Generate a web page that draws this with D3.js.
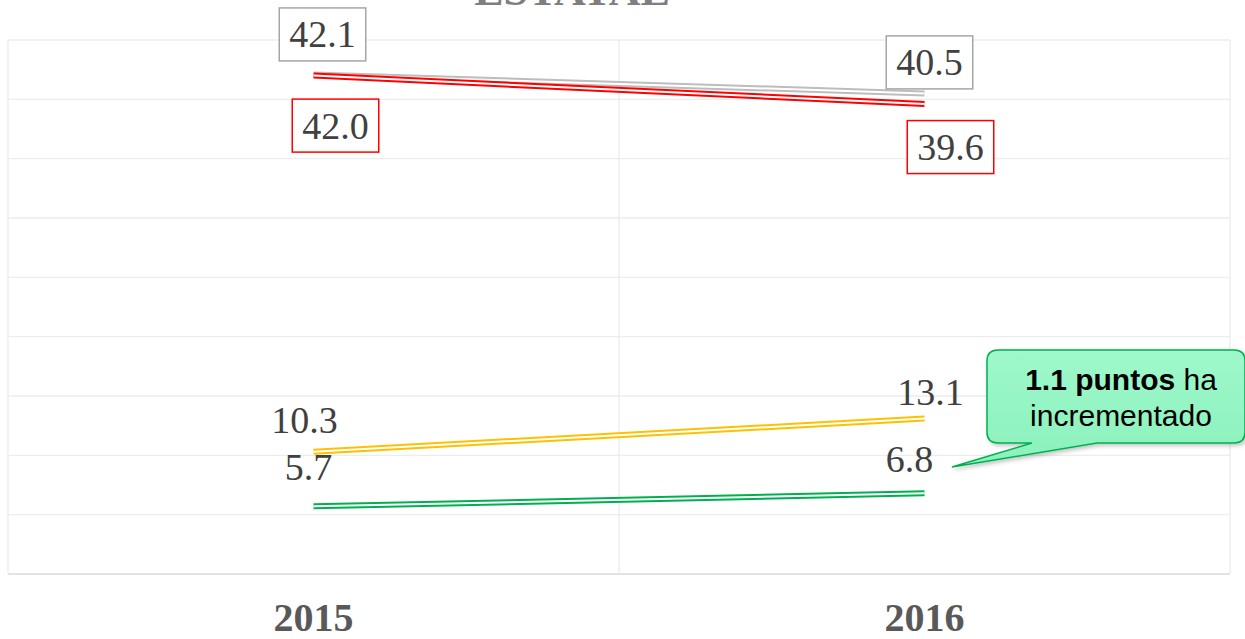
<!DOCTYPE html>
<html>
<head>
<meta charset="utf-8">
<script src="https://cdn.jsdelivr.net/npm/d3@7"></script>
<style>
  body { margin: 0; background: #fff; }
  svg { display: block; }
  .value { font-family: "Liberation Serif", serif; font-size: 38px; fill: #404040; }
  .year { font-family: "Liberation Serif", serif; font-size: 40px; font-weight: bold; fill: #595959; }
  .title { font-family: "Liberation Serif", serif; font-size: 44px; font-weight: bold; fill: #7f7f7f; }
  .note { font-family: "Liberation Sans", sans-serif; font-size: 30px; fill: #000; }
</style>
</head>
<body>
<svg id="chart" width="1245" height="639"></svg>
<script>
const years = ['2015', '2016'];
const grayValues = [42.1, 40.5];
const redValues = [42.0, 39.6];
const yellowValues = [10.3, 13.1];
const greenValues = [5.7, 6.8];
const yTicks = [0, 5, 10, 15, 20, 25, 30, 35, 40, 45];
const noteBold = '1.1 puntos';
const noteRest = ' ha';
const noteLine2 = 'incrementado';
const titleText = 'ESTATAL';

const plot = { left: 8, right: 1230, top: 40, bottom: 574 };

// label placement (offset from point), kept apart from the values
const series = [
  { values: grayValues, color: '#bdbdbd', box: '#a6a6a6', offsets: [[9, -27], [5, -18]] },
  { values: redValues, color: '#ff0000', box: '#ff0000', offsets: [[22, 63], [26, 56]] },
  { values: yellowValues, color: '#ffc000', box: null, offsets: [[-9, -19], [6, -14]] },
  { values: greenValues, color: '#00b050', box: null, offsets: [[-5, -26], [-15, -21]] },
];

const svg = d3.select('#chart');

const x = d3.scaleBand()
  .domain(years)
  .range([plot.left, plot.right]);

const y = d3.scaleLinear()
  .domain([0, 45])
  .range([plot.bottom, plot.top]);

const cx = d => x(d) + x.bandwidth() / 2;

// title (cut at the top)
svg.append('text')
  .attr('class', 'title')
  .attr('x', 572)
  .attr('y', 5)
  .attr('text-anchor', 'middle')
  .text(titleText);

// grid
const grid = svg.append('g');
grid.selectAll('.h')
  .data(yTicks)
  .enter().append('line')
  .attr('x1', plot.left).attr('x2', plot.right)
  .attr('y1', d => y(d)).attr('y2', d => y(d))
  .attr('stroke', d => d === 0 ? '#d9d9d9' : '#ededed')
  .attr('stroke-width', 1.4);

grid.selectAll('.v')
  .data([...years.map(d => x(d)), plot.right])
  .enter().append('line')
  .attr('x1', d => d).attr('x2', d => d)
  .attr('y1', plot.top).attr('y2', plot.bottom)
  .attr('stroke', '#ededed')
  .attr('stroke-width', 1.4);

// double lines
const line = d3.line()
  .x((v, i) => cx(years[i]))
  .y(v => y(v));

series.forEach(s => {
  svg.append('path')
    .attr('d', line(s.values))
    .attr('fill', 'none')
    .attr('stroke', s.color)
    .attr('stroke-width', 6);
  svg.append('path')
    .attr('d', line(s.values))
    .attr('fill', 'none')
    .attr('stroke', '#fff')
    .attr('stroke-width', 2);
});

// value labels
series.forEach(s => {
  s.values.forEach((v, i) => {
    const [dx, dy] = s.offsets[i];
    const tx = cx(years[i]) + dx;
    const ty = y(v) + dy;
    const label = svg.append('text')
      .attr('class', 'value')
      .attr('x', tx)
      .attr('y', ty)
      .attr('text-anchor', 'middle')
      .text(v.toFixed(1));
    if (s.box) {
      const w = label.node().getComputedTextLength() + 20;
      svg.insert('rect', 'text.value')
        .attr('x', tx - w / 2)
        .attr('y', ty - 13 - 26.5)
        .attr('width', w)
        .attr('height', 53)
        .attr('fill', '#fff')
        .attr('stroke', s.box)
        .attr('stroke-width', 1.5);
    }
  });
});

// callout
const defs = svg.append('defs');
const grad = defs.append('linearGradient')
  .attr('id', 'noteFill')
  .attr('x1', 0).attr('y1', 0).attr('x2', 0).attr('y2', 1);
grad.append('stop').attr('offset', '0%').attr('stop-color', '#9ff8cb');
grad.append('stop').attr('offset', '100%').attr('stop-color', '#8af1bc');

const shadow = defs.append('filter').attr('id', 'shadow')
  .attr('x', '-10%').attr('y', '-10%').attr('width', '130%').attr('height', '140%');
shadow.append('feDropShadow')
  .attr('dx', 2).attr('dy', 2).attr('stdDeviation', 2)
  .attr('flood-color', '#000').attr('flood-opacity', 0.25);

const bx = 987, by = 350, bw = 258, bh = 93, r = 11;
const tip = [952, 467], t1 = 1032, t2 = 1097;
const callout = `M${bx + r},${by} H${bx + bw - r} Q${bx + bw},${by} ${bx + bw},${by + r}
  V${by + bh - r} Q${bx + bw},${by + bh} ${bx + bw - r},${by + bh}
  H${t2} L${tip[0]},${tip[1]} L${t1},${by + bh}
  H${bx + r} Q${bx},${by + bh} ${bx},${by + bh - r}
  V${by + r} Q${bx},${by} ${bx + r},${by} Z`;

svg.append('path')
  .attr('d', callout)
  .attr('fill', 'url(#noteFill)')
  .attr('stroke', '#00b050')
  .attr('stroke-width', 1.5)
  .attr('filter', 'url(#shadow)');

const note = svg.append('text')
  .attr('class', 'note')
  .attr('x', 1121)
  .attr('y', 390)
  .attr('text-anchor', 'middle');
note.append('tspan').attr('font-weight', 'bold').text(noteBold);
note.append('tspan').text(noteRest);

svg.append('text')
  .attr('class', 'note')
  .attr('x', 1121)
  .attr('y', 426)
  .attr('text-anchor', 'middle')
  .text(noteLine2);

// x labels
svg.selectAll('.year')
  .data(years)
  .enter().append('text')
  .attr('class', 'year')
  .attr('x', d => cx(d))
  .attr('y', 631)
  .attr('text-anchor', 'middle')
  .text(d => d);
</script>
</body>
</html>
